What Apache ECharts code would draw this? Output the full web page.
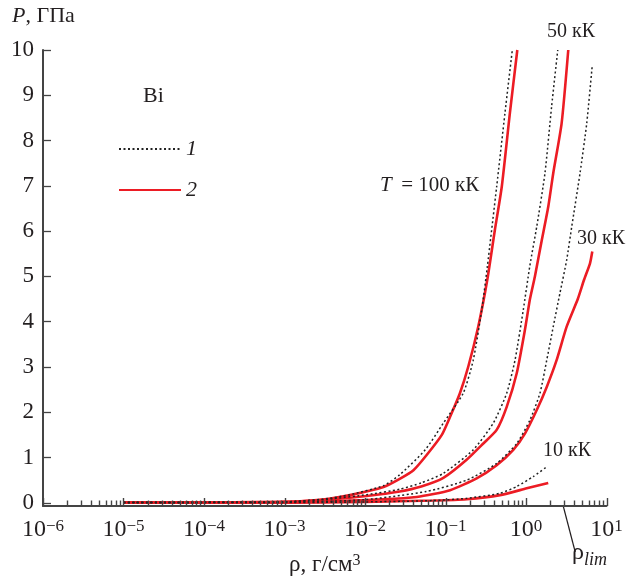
<!DOCTYPE html>
<html>
<head>
<meta charset="utf-8">
<script src="https://cdn.jsdelivr.net/npm/echarts@6/dist/echarts.min.js"></script>
<style>
  body { margin: 0; background: #fff; }
  #report { width: 642px; height: 585px; }
</style>
</head>
<body>
<div id="report"></div>
<script>
// Bi: изотермы P(rho), 1 - пунктир, 2 - красная
var rho100a = [1e-5, 1e-4, 1e-3, 3e-3, 0.0065, 0.017, 0.027, 0.056, 0.094, 0.166, 0.221, 0.282, 0.33, 0.432, 0.548, 0.676]
var p100a = [0.005, 0.01, 0.02, 0.08, 0.18, 0.38, 0.62, 1.17, 1.76, 2.42, 3.15, 4.26, 5.2, 6.98, 8.61, 10]
var rho100b = [1e-5, 1e-4, 1e-3, 3e-3, 0.0065, 0.017, 0.027, 0.04, 0.058, 0.09, 0.114, 0.151, 0.192, 0.255, 0.33, 0.41, 0.5, 0.63, 0.78]
var p100b = [0.005, 0.01, 0.02, 0.07, 0.17, 0.35, 0.53, 0.72, 1.05, 1.5, 1.9, 2.42, 3.01, 3.89, 4.92, 6.02, 6.98, 8.6, 10]

var rho50a = [1e-5, 1e-4, 1e-3, 4e-3, 0.0105, 0.027, 0.05, 0.094, 0.221, 0.392, 0.576, 0.73, 0.925, 1.12, 1.36, 1.72, 2.08, 2.48]
var p50a = [0.005, 0.01, 0.02, 0.09, 0.18, 0.3, 0.44, 0.65, 1.17, 1.76, 2.42, 3.15, 4.26, 5.25, 6.1, 7.28, 8.75, 10]
var rho50b = [1e-5, 1e-4, 1e-3, 4e-3, 0.0105, 0.027, 0.05, 0.094, 0.183, 0.295, 0.432, 0.576, 0.767, 0.97, 1.12, 1.29, 1.57, 1.89, 2.18, 2.77, 3.35]
var p50b = [0.005, 0.01, 0.02, 0.08, 0.15, 0.25, 0.36, 0.55, 0.95, 1.31, 1.61, 2.12, 2.86, 3.82, 4.5, 5.0, 5.8, 6.54, 7.28, 8.38, 10]

var rho30a = [1e-5, 1e-4, 1e-3, 0.01, 0.058, 0.183, 0.432, 0.767, 1.12, 1.49, 1.81, 2.18, 2.64, 3.2, 3.7, 4.69, 5.68, 6.66]
var p30a = [0.005, 0.005, 0.01, 0.07, 0.25, 0.5, 0.87, 1.31, 1.83, 2.42, 3.15, 3.89, 4.63, 5.36, 6.1, 7.28, 8.38, 9.67]
var rho30b = [1e-5, 1e-4, 1e-3, 0.0166, 0.044, 0.114, 0.244, 0.432, 0.695, 0.97, 1.36, 1.81, 2.4, 3.2, 4.4, 5.25, 6.24, 6.66]
var p30b = [0.005, 0.005, 0.01, 0.08, 0.13, 0.28, 0.54, 0.83, 1.17, 1.53, 2.05, 2.56, 3.15, 3.89, 4.5, 4.92, 5.29, 5.55]

var rho10a = [1e-5, 1e-4, 1e-3, 0.01, 0.07, 0.183, 0.475, 0.767, 1.23, 1.86]
var p10a = [0.005, 0.005, 0.005, 0.02, 0.05, 0.10, 0.21, 0.36, 0.58, 0.81]
var rho10b = [1e-5, 1e-4, 1e-3, 0.01, 0.07, 0.183, 0.475, 1.02, 1.89]
var p10b = [0.005, 0.005, 0.005, 0.02, 0.05, 0.08, 0.17, 0.32, 0.44]

var yTicks = [0, 1, 2, 3, 4, 5, 6, 7, 8, 9, 10]
var rhoLim = 2.9
var yMin = -0.07

var FONT = 'Liberation Serif'
var TXT = '#231f20'
var RED = '#ec1c24'
var AX = '#444'

function pairs(xs, ys) {
  return xs.map(function(x, i) { return [x, ys[i]] })
}

// деления оси x: 1 - декада, 2..9 - мелкие
var xTickVals = []
for (var n = -6; n <= 1; n++) {
  for (var k = 1; k <= 9; k++) {
    if (n === 1 && k > 1) break
    xTickVals.push({ v: k * Math.pow(10, n), major: k === 1 })
  }
}

function redLine(xs, ys) {
  return { name: '2', type: 'line', symbol: 'none', smooth: 0.2, data: pairs(xs, ys),
    lineStyle: { color: RED, width: 2.6 }, itemStyle: { color: RED } }
}
function dotLine(xs, ys) {
  return { name: '1', type: 'line', symbol: 'none', smooth: 0.2, data: pairs(xs, ys),
    lineStyle: { color: '#222', width: 1.5, type: [2, 2.5] }, itemStyle: { color: '#222' } }
}

function txt(id, left, top, text, size, rich) {
  return { type: 'text', id: id, left: left, top: top,
    style: { text: text, fontFamily: FONT, fontSize: size, fill: TXT, rich: rich || {} } }
}

var myChart = echarts.init(document.getElementById('report'))
var option = {
  animation: false,
  textStyle: { fontFamily: FONT, color: TXT },
  grid: { left: 43, right: 35.5, top: 50, bottom: 79 },
  legend: {
    data: ['1', '2'],
    orient: 'vertical',
    left: 113,
    top: 133,
    itemWidth: 62,
    itemHeight: 14,
    itemGap: 19,
    selectedMode: false,
    itemStyle: { color: 'transparent', borderWidth: 0 },
    textStyle: { fontFamily: FONT, fontSize: 22, fontStyle: 'italic', color: TXT, lineHeight: 14 }
  },
  xAxis: {
    type: 'log',
    min: 1e-6,
    max: 10,
    logBase: 10,
    name: 'ρ, г/см{sup|3}',
    nameLocation: 'middle',
    nameGap: 47,
    nameTextStyle: {
      fontFamily: FONT, fontSize: 23, color: TXT,
      rich: { sup: { fontFamily: FONT, fontSize: 16, color: TXT, verticalAlign: 'top' } }
    },
    axisLine: { onZero: false, lineStyle: { color: AX, width: 2 } },
    axisTick: { show: false },
    splitLine: { show: false },
    axisLabel: {
      margin: 12,
      fontFamily: FONT,
      fontSize: 24,
      color: TXT,
      formatter: function(v) {
        var e = Math.round(Math.log10(v))
        return '10{sup|' + (e < 0 ? '\u2212' + (-e) : e) + '}'
      },
      rich: { sup: { fontFamily: FONT, fontSize: 17, color: TXT, verticalAlign: 'top' } }
    }
  },
  yAxis: {
    type: 'value',
    min: yMin,
    max: 10,
    axisLine: { show: true, onZero: false, lineStyle: { color: AX, width: 2 } },
    axisTick: { show: true, inside: true, length: 8, customValues: yTicks, lineStyle: { color: AX, width: 1.3 } },
    axisLabel: { margin: 9, fontFamily: FONT, fontSize: 23, color: TXT, customValues: yTicks },
    splitLine: { show: false }
  },
  series: [
    redLine(rho100b, p100b),
    redLine(rho50b, p50b),
    redLine(rho30b, p30b),
    redLine(rho10b, p10b),
    dotLine(rho100a, p100a),
    dotLine(rho50a, p50a),
    dotLine(rho30a, p30a),
    dotLine(rho10a, p10a)
  ]
}
myChart.setOption(option)

// деления, подписи и указатель rho_lim (координаты берутся из оси)
var axisY = myChart.convertToPixel({ yAxisIndex: 0 }, yMin)
var limX = myChart.convertToPixel({ xAxisIndex: 0 }, rhoLim)
var italic = function(size) {
  return { i: { fontFamily: FONT, fontSize: size, fontStyle: 'italic', fill: TXT } }
}
var graphics = xTickVals.map(function(t, i) {
  var x = Math.round(myChart.convertToPixel({ xAxisIndex: 0 }, t.v)) + 0.5
  return { type: 'line', id: 'xt' + i, z: 50, silent: true,
    shape: { x1: x, y1: axisY, x2: x, y2: axisY - (t.major ? 8 : 5.5) },
    style: { stroke: AX, lineWidth: 1.4 } }
})
graphics = graphics.concat([
  txt('ptitle', 12, 5, '{i|P}, ГПа', 22, italic(22)),
  txt('bi', 143, 85, 'Bi', 22),
  txt('t100', 380, 175, '{i|T}\u2009 = 100 кК', 21, italic(21)),
  txt('t50', 547, 22, '50 кК', 20),
  txt('t30', 577, 229, '30 кК', 20),
  txt('t10', 543, 441, '10 кК', 20),
  { type: 'line', id: 'limline', shape: { x1: limX, y1: axisY, x2: limX + 12, y2: axisY + 46 }, style: { stroke: TXT, lineWidth: 1.2 } },
  txt('lim', 572, 541, 'ρ{s|lim}', 24, {
    s: { fontFamily: FONT, fontSize: 18, fontStyle: 'italic', fill: TXT, verticalAlign: 'bottom', padding: [14, 0, 0, 0] }
  })
])
myChart.setOption({ graphic: graphics })
</script>
</body>
</html>
